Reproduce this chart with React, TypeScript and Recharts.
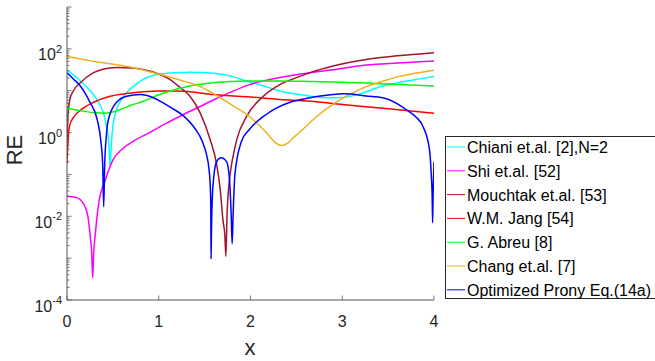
import React from "react";
import { LineChart, Line, XAxis, YAxis } from "recharts";

// x positions and RE values, one pair of arrays per curve
const chianiX = [0, 0.07, 0.145, 0.22, 0.29, 0.35, 0.4, 0.43, 0.455, 0.47, 0.485, 0.5, 0.54, 0.6, 0.65, 0.75, 0.83, 1.0, 1.2, 1.34, 1.6, 1.8, 1.96, 2.15, 2.32, 2.5, 2.65, 2.83, 3.0, 3.2, 3.44, 3.7, 4.0];
const chianiY = [31, 24, 17, 12, 8, 5, 2.8, 1.4, 0.6, 0.15, 0.6, 1.4, 3.5, 6.5, 9, 14, 18.6, 24.6, 27, 27.6, 26, 22, 17, 13, 9.8, 8.3, 7.4, 6.8, 6.9, 8.5, 12.9, 17, 22];

const shiX = [0, 0.1, 0.145, 0.22, 0.25, 0.27, 0.28, 0.29, 0.31, 0.34, 0.42, 0.5, 0.6, 0.72, 0.9, 1.09, 1.27, 1.45, 1.63, 1.81, 1.99, 2.32, 2.65, 2.9, 3.26, 3.6, 4.0];
const shiY = [0.03, 0.028, 0.025, 0.012, 0.004, 0.0012, 0.00034, 0.0012, 0.004, 0.017, 0.076, 0.22, 0.4, 0.62, 1.0, 1.7, 2.7, 4.2, 6.5, 9.8, 14, 20.6, 27, 31.6, 41, 46, 51];

const mouchtakX = [0, 0.01, 0.03, 0.07, 0.145, 0.29, 0.4, 0.54, 0.7, 0.83, 1.0, 1.12, 1.23, 1.34, 1.45, 1.56, 1.63, 1.67, 1.7, 1.72, 1.732, 1.745, 1.78, 1.81, 1.85, 1.96, 2.14, 2.32, 2.54, 2.65, 2.9, 3.26, 3.6, 4.0];
const mouchtakY = [0.5, 2.5, 6, 10, 15.5, 27, 33, 36, 35, 32, 25, 18.6, 12, 7.4, 3, 0.68, 0.18, 0.044, 0.008, 0.0036, 0.0011, 0.012, 0.11, 0.27, 0.68, 2.5, 7.4, 14, 22, 27, 39, 56, 68, 81];

const jangX = [0, 0.01, 0.03, 0.07, 0.145, 0.29, 0.47, 0.65, 0.83, 1.01, 1.2, 1.34, 1.59, 1.96, 2.32, 2.65, 3.0, 3.5, 4.0];
const jangY = [0.18, 0.6, 1.5, 2.3, 3.4, 5.3, 7.4, 8.6, 9.5, 9.9, 9.9, 9.5, 8.1, 7.2, 6.2, 5.6, 4.7, 3.7, 2.9];

const abreuX = [0, 0.15, 0.29, 0.43, 0.54, 0.7, 0.83, 1.01, 1.2, 1.34, 1.59, 1.96, 2.32, 2.65, 3.0, 3.5, 4.0];
const abreuY = [3.8, 3.3, 3.0, 2.9, 3.3, 4.5, 5.6, 8.1, 11, 13, 15.5, 17, 17, 16.6, 16, 14.5, 13];

const changX = [0, 0.3, 0.71, 1.0, 1.23, 1.45, 1.59, 1.8, 1.96, 2.1, 2.2, 2.28, 2.34, 2.4, 2.48, 2.57, 2.7, 2.9, 3.1, 3.26, 3.45, 3.62, 3.8, 4.0];
const changY = [66, 50, 36, 25, 18, 12.6, 8.7, 4.5, 2.7, 1.45, 0.85, 0.55, 0.49, 0.55, 0.8, 1.2, 2.2, 4.8, 8.5, 12.5, 17, 22, 26, 31];

const pronyX = [0, 0.07, 0.145, 0.25, 0.33, 0.37, 0.39, 0.4, 0.41, 0.43, 0.45, 0.54, 0.65, 0.8, 0.94, 1.03, 1.12, 1.27, 1.4, 1.47, 1.52, 1.545, 1.56, 1.567, 1.57, 1.575, 1.59, 1.63, 1.68, 1.74, 1.77, 1.79, 1.8, 1.81, 1.83, 1.9, 1.99, 2.17, 2.43, 2.65, 2.9, 3.0, 3.1, 3.26, 3.44, 3.62, 3.7, 3.8, 3.88, 3.95, 3.97, 3.98, 3.985, 3.99, 4.0];
const pronyY = [27, 19, 13, 5.3, 2.0, 0.6, 0.15, 0.017, 0.15, 0.9, 2.0, 5.3, 7.4, 8.1, 6.8, 5.4, 4.1, 2.5, 1.2, 0.65, 0.3, 0.15, 0.06, 0.02, 0.00095, 0.005, 0.05, 0.2, 0.25, 0.2, 0.08, 0.01, 0.0022, 0.01, 0.1, 0.6, 1.2, 2.7, 5.3, 6.8, 8.1, 8.5, 8.3, 7.5, 6.8, 4.6, 3.5, 2.4, 1.4, 0.4, 0.1, 0.03, 0.007, 0.03, 0.2];

const seriesNames = [
  "Chiani et.al. [2],N=2",
  "Shi et.al. [52]",
  "Mouchtak et.al. [53]",
  "W.M. Jang [54]",
  "G. Abreu [8]",
  "Chang et.al. [7]",
  "Optimized Prony Eq.(14a)",
];
const seriesColors = ["#00FFFF", "#FF00FF", "#A2142F", "#FF0000", "#00FF00", "#EDB120", "#0000FF"];
const seriesXs = [chianiX, shiX, mouchtakX, jangX, abreuX, changX, pronyX];
const seriesYs = [chianiY, shiY, mouchtakY, jangY, abreuY, changY, pronyY];

const xTicks = [0, 1, 2, 3, 4];
const labeledExps = [-4, -2, 0, 2];
const yTicks: number[] = [];
for (let k = -4; k <= 2; k++) {
  for (let m = 1; m <= 9; m++) yTicks.push(+(m * Math.pow(10, k)).toPrecision(3));
}
yTicks.push(1000);

const AXIS = "#555";
const TXT = "#262626";
const FONT = '"Liberation Sans", Arial, Helvetica, sans-serif';

const toPts = (xs: number[], ys: number[]) => xs.map((x, i) => ({ x, y: ys[i] }));

function YTick(props: any) {
  const { x, y, payload, side } = props;
  const lg = Math.log10(payload.value);
  const e = Math.round(lg);
  const decade = Math.abs(lg - e) < 1e-6;
  const len = decade ? 4.5 : 2.5;
  const dir = side === "left" ? 1 : -1;
  return (
    <g>
      <line x1={x} y1={y} x2={x + dir * len} y2={y} stroke={AXIS} strokeWidth={0.8} />
      {side === "left" && decade && labeledExps.includes(e) && (
        <text x={x - 5} y={y + 11.5} textAnchor="end" fontSize={16} fill={TXT} fontFamily={FONT}>
          10
          <tspan dy={-7.5} fontSize={11}>
            {e}
          </tspan>
        </text>
      )}
    </g>
  );
}

function XTick(props: any) {
  const { x, y, payload, side } = props;
  const dir = side === "bottom" ? -1 : 1;
  return (
    <g>
      <line x1={x} y1={y} x2={x} y2={y + dir * 4.5} stroke={AXIS} strokeWidth={0.8} />
      {side === "bottom" && (
        <text x={x} y={y + 27} textAnchor="middle" fontSize={16} fill={TXT} fontFamily={FONT}>
          {payload.value}
        </text>
      )}
    </g>
  );
}

function YTitle() {
  return (
    <text x={22} y={150} transform="rotate(-90, 22, 150)" textAnchor="middle" fontSize={22} fill={TXT} fontFamily={FONT}>
      RE
    </text>
  );
}

function XTitle() {
  return (
    <text x={250} y={355} textAnchor="middle" fontSize={22} fill={TXT} fontFamily={FONT}>
      x
    </text>
  );
}

export default function App() {
  return (
    <div style={{ position: "absolute", left: 0, top: 0, width: 655, height: 361, background: "#fff", overflow: "hidden" }}>
      <LineChart width={655} height={361} margin={{ top: 7, right: 221, bottom: 0, left: 0 }}>
        <XAxis
          xAxisId="b"
          dataKey="x"
          type="number"
          domain={[0, 4]}
          ticks={xTicks}
          interval={0}
          allowDataOverflow
          orientation="bottom"
          height={61}
          tickSize={0}
          tickMargin={0}
          tickLine={false}
          axisLine={{ stroke: AXIS }}
          tick={<XTick side="bottom" />}
          label={<XTitle />}
        />
        <XAxis
          xAxisId="t"
          dataKey="x"
          type="number"
          domain={[0, 4]}
          ticks={xTicks}
          interval={0}
          allowDataOverflow
          orientation="top"
          height={0}
          tickSize={0}
          tickMargin={0}
          tickLine={false}
          axisLine={{ stroke: AXIS }}
          tick={<XTick side="top" />}
        />
        <YAxis
          yAxisId="l"
          type="number"
          scale="log"
          domain={[1e-4, 1000]}
          ticks={yTicks}
          interval={0}
          allowDataOverflow
          orientation="left"
          width={67}
          tickSize={0}
          tickMargin={0}
          tickLine={false}
          axisLine={{ stroke: AXIS }}
          tick={<YTick side="left" />}
          label={<YTitle />}
        />
        <YAxis
          yAxisId="r"
          type="number"
          scale="log"
          domain={[1e-4, 1000]}
          ticks={yTicks}
          interval={0}
          allowDataOverflow
          orientation="right"
          width={0}
          tickSize={0}
          tickMargin={0}
          tickLine={false}
          axisLine={{ stroke: AXIS }}
          tick={<YTick side="right" />}
        />
        {seriesNames.map((name, i) => (
          <Line
            key={name}
            name={name}
            data={toPts(seriesXs[i], seriesYs[i])}
            dataKey="y"
            xAxisId="b"
            yAxisId="l"
            type="monotone"
            stroke={seriesColors[i]}
            strokeWidth={1.5}
            dot={false}
            activeDot={false}
            isAnimationActive={false}
          />
        ))}
      </LineChart>
      <svg width={655} height={361} style={{ position: "absolute", left: 0, top: 0, pointerEvents: "none" }}>
        <rect x={445.5} y={136.5} width={220} height={162} fill="#fff" stroke={TXT} strokeWidth={1} />
        {seriesNames.map((name, i) => {
          const cy = 147 + i * 23.8;
          return (
            <g key={name}>
              <line x1={447} y1={cy} x2={465} y2={cy} stroke={seriesColors[i]} strokeWidth={1} />
              <text x={467} y={cy + 6} fontSize={16} fill="#000" fontFamily={FONT}>
                {name}
              </text>
            </g>
          );
        })}
      </svg>
    </div>
  );
}
